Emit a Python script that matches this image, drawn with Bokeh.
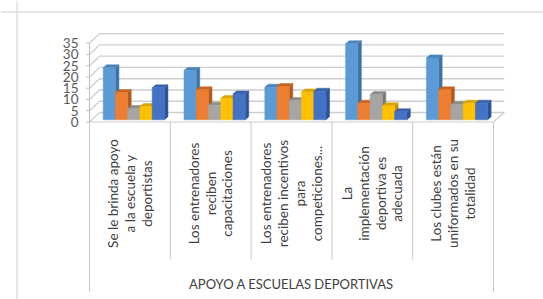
import math
from bokeh.plotting import figure
from bokeh.models import Range1d, Span
from bokeh.core.properties import value
from bokeh.embed import file_html
from bokeh.resources import INLINE

# ---------------- data ----------------
categories = [
    "Se le brinda apoyo\na la escuela y\ndeportistas",
    "Los entrenadores\nreciben\ncapacitaciones",
    "Los entrenadores\nreciben incentivos\npara\ncompeticiones...",
    "La\nimplementación\ndeportiva es\nadecuada",
    "Los clubes están\nuniformados en su\ntotalidad",
]
serie1 = [23.1, 21.9, 14.5, 33.8, 27.5]
serie2 = [12.1, 13.3, 14.8, 7.4, 13.3]
serie3 = [5.0, 6.5, 8.6, 11.2, 6.8]
serie4 = [5.9, 9.5, 12.4, 6.2, 7.4]
serie5 = [14.2, 11.5, 12.7, 3.6, 7.4]
y_ticks = [0, 5, 10, 15, 20, 25, 30, 35]
group_title = "APOYO A ESCUELAS DEPORTIVAS"

series = [serie1, serie2, serie3, serie4, serie5]
front_colors = ["#5B9BD5", "#ED7D31", "#A5A5A5", "#FFC000", "#4472C4"]
side_colors = ["#3F72A3", "#B05A20", "#7A7A7A", "#BF9000", "#2C5396"]
top_colors = ["#4A83BA", "#C8641F", "#8C8C8C", "#D9A400", "#3862AE"]

# ---------------- layout (pixels of the page) ----------------
OX, OY = 0, 0                    # page position of the figure
W, H = 543, 299
PX_X = (493 - 89) / 5.0          # px per category
PX_Y = (121.5 - 42.7) / 35.0     # px per value unit
x_start = -(89 - OX) / PX_X
x_end = x_start + W / PX_X
y_end = (121.5 - OY) / PX_Y
y_start = y_end - H / PX_Y


def px2x(px):
    return x_start + (px - OX) / PX_X


def py2y(py):
    return y_end - (py - OY) / PX_Y


WX, WY = 10 / PX_X, 9.5 / PX_Y        # back wall depth offset
BX, BY = 3.5 / PX_X, 3.0 / PX_Y       # bar depth offset
BASE = 2.2 / PX_Y                     # bar front plane offset
GROUP_LEFT = 13.7 / PX_X
BAR_W = 12.25 / PX_X

p = figure(width=W, height=H, output_backend="svg", toolbar_location=None,
           x_range=Range1d(x_start, x_end), y_range=Range1d(y_start, y_end),
           min_border=0, min_border_left=0, min_border_right=0,
           min_border_top=0, min_border_bottom=0)
p.axis.visible = False
p.grid.visible = False
p.outline_line_color = None
p.background_fill_color = "white"
p.border_fill_color = "white"

# outer chart border (left & top visible in window)
p.add_layout(Span(location=px2x(16.5), dimension="height", line_color="#d0d0d0", line_width=1))
p.add_layout(Span(location=py2y(11.5), dimension="width", line_color="#d0d0d0", line_width=1))

grid_c = "#cdcdcd"
n = len(categories)

# back wall gridlines
p.segment(x0=[WX] * len(y_ticks), y0=[t + WY for t in y_ticks],
          x1=[n + WX + 0.01] * len(y_ticks), y1=[t + WY for t in y_ticks],
          line_color=grid_c, line_width=1.3)
# side wall diagonals
p.segment(x0=[0] * len(y_ticks), y0=y_ticks, x1=[WX] * len(y_ticks),
          y1=[t + WY for t in y_ticks], line_color=grid_c, line_width=1.2)
# floor edges
p.segment(x0=[0, n], y0=[0, 0], x1=[n, n + WX + 0.01], y1=[0, WY],
          line_color=grid_c, line_width=1.2)
# value axis line and ticks
p.segment(x0=[0], y0=[0], x1=[0], y1=[max(y_ticks)], line_color="#bfbfbf", line_width=1)
p.segment(x0=[-3.5 / PX_X] * len(y_ticks), y0=y_ticks, x1=[0] * len(y_ticks), y1=y_ticks,
          line_color="#bfbfbf", line_width=1)
p.text(x=[px2x(78)] * len(y_ticks), y=y_ticks, text=[str(t) for t in y_ticks],
       text_align="right", text_baseline="middle", text_font=value("Lato"),
       text_font_size="13.5px", text_color="#595959")

# category separators
inner = list(range(1, n))
p.segment(x0=inner, y0=[0] * len(inner), x1=inner, y1=[py2y(259)] * len(inner),
          line_color="#c8c8c8", line_width=1)
p.segment(x0=[0, n], y0=[0, 0], x1=[0, n], y1=[py2y(292)] * 2,
          line_color="#c8c8c8", line_width=1)

# 3D bars
for s, vals in enumerate(series):
    lefts = [i + GROUP_LEFT + s * BAR_W for i in range(n)]
    rights = [l + BAR_W for l in lefts]
    tops = [BASE + v for v in vals]
    side_xs = [[r, r + BX, r + BX, r] for r in rights]
    side_ys = [[BASE, BASE + BY, t + BY, t] for t in tops]
    top_xs = [[l, l + BX, r + BX, r] for l, r in zip(lefts, rights)]
    top_ys = [[t, t + BY, t + BY, t] for t in tops]
    p.patches(xs=side_xs, ys=side_ys, fill_color=side_colors[s], line_color=side_colors[s], line_width=0.5)
    p.patches(xs=top_xs, ys=top_ys, fill_color=top_colors[s], line_color=top_colors[s], line_width=0.5)
    p.quad(left=lefts, right=rights, bottom=[BASE] * n, top=tops,
           fill_color=front_colors[s], line_color=front_colors[s], line_width=0.5)

# category labels
p.text(x=[i + 0.5 for i in range(n)], y=[py2y(193)] * n, text=categories,
       angle=math.pi / 2, text_align="center", text_baseline="middle",
       text_font=value("Lato"), text_font_size="13.5px", text_color="#404040",
       text_line_height=1.05)

# group title
p.text(x=[n / 2], y=[py2y(283)], text=[group_title], text_align="center",
       text_baseline="middle", text_font=value("Lato"), text_font_size="13px",
       text_color="#404040")

open("out.html", "w").write(file_html(p, INLINE))
